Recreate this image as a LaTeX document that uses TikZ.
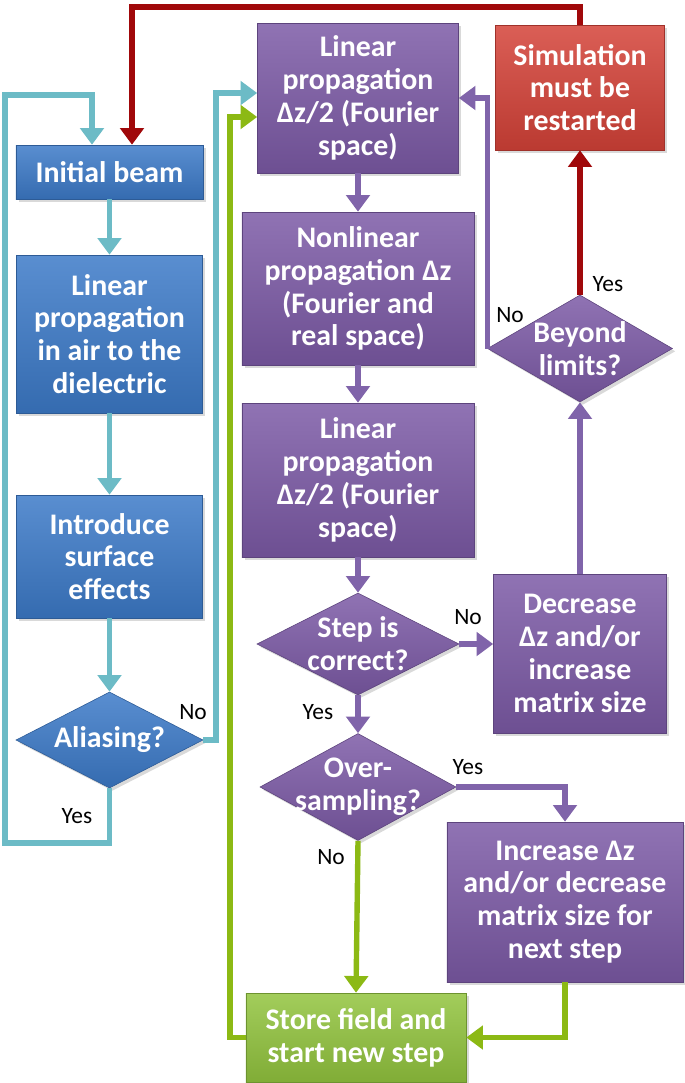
\documentclass[tikz,border=0pt]{standalone}
\usepackage{fontspec}
\setmainfont{Carlito}
\usetikzlibrary{arrows.meta,shapes.geometric,shadows}

\definecolor{bluefill}{RGB}{60,122,200}
\definecolor{purplefill}{RGB}{124,90,166}
\definecolor{redfill}{RGB}{212,66,56}
\definecolor{greenfill}{RGB}{146,196,62}
\definecolor{cyanln}{RGB}{108,187,198}
\definecolor{redln}{RGB}{160,8,10}
\definecolor{greenln}{RGB}{140,185,20}
\definecolor{purpleln}{RGB}{128,100,170}

\newcommand\boxfont{\fontsize{25.5}{28}\selectfont\bfseries}
\newcommand\lblfont{\fontsize{20}{22}\selectfont}

\begin{document}
\begin{tikzpicture}[x=0.03cm, y=-0.03cm,
  box/.style={rectangle, draw=#1!75!black, line width=0.5pt, inner sep=2pt,
    align=center, text=white, font=\boxfont,
    top color=#1!85!white, bottom color=#1!88!black,
    drop shadow={opacity=0.3}},
  decision/.style={diamond, draw=#1!75!black, line width=0.5pt, inner sep=0pt,
    top color=#1!85!white, bottom color=#1!88!black,
    drop shadow={opacity=0.3}},
  dtext/.style={align=center, text=white, font=\boxfont, inner sep=0pt},
  flow/.style={draw=#1, line width=4.6pt, -{Triangle[width=0.7cm,length=0.5cm]}},
  lbl/.style={font=\lblfont, inner sep=0pt}]
  \useasboundingbox (0,0) rectangle (685,1083);

  % Left column: preparing the beam
  \node[box=bluefill, minimum width=5.61cm, minimum height=1.62cm] (init) at (109.5,172) {Initial beam};
  \node[box=bluefill, minimum width=5.58cm, minimum height=4.74cm] (airprop) at (109.5,334) {Linear\\propagation\\in air to the\\dielectric};
  \node[box=bluefill, minimum width=5.58cm, minimum height=3.69cm] (surf) at (109.5,556.5) {Introduce\\surface\\effects};
  \node[decision=bluefill, minimum width=5.61cm, minimum height=2.88cm] (alias) at (109.5,740) {};
  \node[dtext] (alias-t) at (alias) {Aliasing?};

  % Middle column: one split-step
  \node[box=purplefill, minimum width=6.03cm, minimum height=4.5cm] (lin1) at (358,98) {Linear\\propagation\\Δz/2 (Fourier\\space)};
  \node[box=purplefill, minimum width=6.96cm, minimum height=4.59cm] (nonlin) at (358,288.5) {Nonlinear\\propagation Δz\\(Fourier and\\real space)};
  \node[box=purplefill, minimum width=6.96cm, minimum height=4.62cm] (lin2) at (358,480) {Linear\\propagation\\Δz/2 (Fourier\\space)};
  \node[decision=purplefill, minimum width=6.06cm, minimum height=3.06cm] (step) at (358,644) {};
  \node[dtext] (step-t) at (step) {Step is\\correct?};
  \node[decision=purplefill, minimum width=5.88cm, minimum height=3.21cm] (over) at (358,787) {};
  \node[dtext] (over-t) at (over) {Over-\\sampling?};
  \node[box=greenfill, minimum width=6.6cm, minimum height=2.67cm] (store) at (356,1037.5) {Store field and\\start new step};

  % Right column: step control
  \node[box=redfill, minimum width=5.07cm, minimum height=3.75cm] (sim) at (580,87.5) {Simulation\\must be\\restarted};
  \node[decision=purplefill, minimum width=5.55cm, minimum height=3.21cm] (beyond) at (580,348.5) {};
  \node[dtext] (beyond-t) at (beyond) {Beyond\\limits?};
  \node[box=purplefill, minimum width=5.19cm, minimum height=4.77cm] (decr) at (580,653.5) {Decrease\\Δz and/or\\increase\\matrix size};
  \node[box=purplefill, minimum width=7.08cm, minimum height=4.8cm] (incr) at (565,902) {Increase Δz\\and/or decrease\\matrix size for\\next step};

  % Bend points of the long loops
  \coordinate (cyanin) at (92,95);
  \coordinate (noin) at (216,93);
  \coordinate (grin) at (230,117);
  \coordinate (redtop) at (132,7);

  % Cyan connectors
  \draw[flow=cyanln] (init.south) -- (airprop.north);
  \draw[flow=cyanln] (airprop.south) -- (surf.north);
  \draw[flow=cyanln] (surf.south) -- (alias.north);
  \draw[flow=cyanln] (alias.south) |- (5,843) |- (cyanin) -- (cyanin |- init.north);
  \draw[flow=cyanln] (alias.east) -| (noin) -- (noin -| lin1.west);

  % Purple connectors
  \draw[flow=purpleln] (lin1.south) -- (nonlin.north);
  \draw[flow=purpleln] (nonlin.south) -- (lin2.north);
  \draw[flow=purpleln] (lin2.south) -- (step.north);
  \draw[flow=purpleln] (step.south) -- (over.north);
  \draw[flow=purpleln] (step.east) -- (step.east -| decr.west);
  \draw[flow=purpleln] (decr.north) -- (beyond.south);
  \draw[flow=purpleln] (beyond.west) |- (lin1.east);
  \draw[flow=purpleln] (over.east) -| (incr.north);

  % Red connectors
  \draw[flow=redln] (beyond.north) -- (sim.south);
  \draw[flow=redln] (sim.north) |- (redtop) -- (redtop |- init.north);

  % Green connectors
  \draw[flow=greenln] (over.south) -- (store.north);
  \draw[flow=greenln] (incr.south) |- (store.east);
  \draw[flow=greenln] (store.west) -| (grin) -- (grin -| lin1.west);

  % Yes / No labels
  \node[lbl] (alias-no) at (193,712) {No};
  \node[lbl] (alias-yes) at (77,816) {Yes};
  \node[lbl] (step-no) at (468,617) {No};
  \node[lbl] (step-yes) at (318,712) {Yes};
  \node[lbl] (over-yes) at (468,767) {Yes};
  \node[lbl] (over-no) at (331,857) {No};
  \node[lbl] (beyond-yes) at (608,284) {Yes};
  \node[lbl] (beyond-no) at (510,315) {No};
\end{tikzpicture}
\end{document}
